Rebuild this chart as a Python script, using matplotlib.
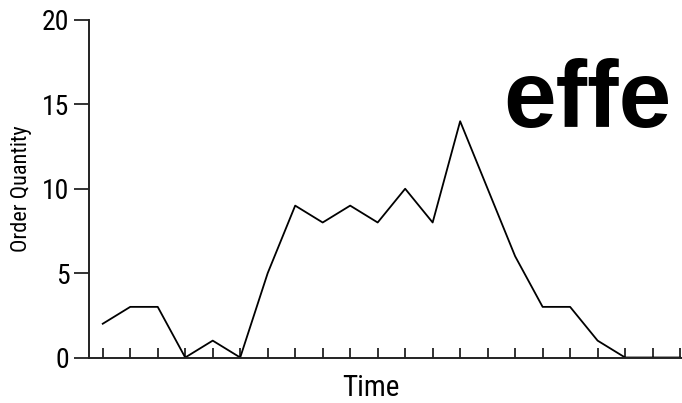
import matplotlib
matplotlib.use("Agg")
import matplotlib.pyplot as plt

plt.rcParams["font.family"] = ["Roboto Condensed", "Liberation Sans Narrow", "DejaVu Sans"]

# order quantity per period
periods = list(range(22))
order_qty = [2, 3, 3, 0, 1, 0, 5, 9, 8, 9, 8, 10, 8, 14, 10, 6, 3, 3, 1, 0, 0, 0]
y_ticks = [0, 5, 10, 15, 20]

big_word = "effe"


def main():
    fig = plt.figure(figsize=(6.82, 4.03), dpi=100)
    ax = fig.add_axes([0.1305, 0.1129, 0.907, 0.8375])

    ax.plot(periods, order_qty, color="black", linewidth=1.3)

    ax.set_xlim(-0.5, 22)
    ax.set_ylim(0, 20)
    ax.set_yticks(y_ticks)
    ax.set_xticks(periods)
    ax.set_xticklabels([])

    for side in ["top", "right"]:
        ax.spines[side].set_visible(False)
    for side in ["left", "bottom"]:
        ax.spines[side].set_linewidth(1.4)
        ax.spines[side].set_color("#222222")

    ax.tick_params(axis="y", direction="out", length=11, width=1.3,
                   labelsize=20, pad=3, color="#222222")
    ax.tick_params(axis="x", direction="in", length=7, width=1.3,
                   color="#222222")

    ax.set_ylabel("Order Quantity", fontsize=16)
    ax.yaxis.set_label_coords(-0.092, 0.5)
    ax.set_xlabel("Time", fontsize=21)
    ax.xaxis.set_label_coords(0.456, -0.05)

    # large word running off the right edge
    fig.text(503 / 682, (403 - 127) / 403, big_word, fontsize=68,
             fontweight="bold", family=["Liberation Sans", "DejaVu Sans"],
             ha="left", va="baseline")

    fig.savefig("out.png", dpi=100)
    plt.close(fig)


if __name__ == "__main__":
    main()
